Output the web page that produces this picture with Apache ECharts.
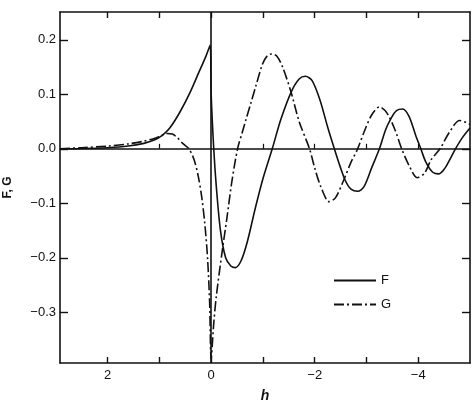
<!DOCTYPE html>
<html>
<head>
<meta charset="utf-8">
<script src="https://cdn.jsdelivr.net/npm/echarts@6/dist/echarts.min.js"></script>
<style>html,body{margin:0;padding:0;background:#fff;}#c{width:474px;height:404px;}</style>
</head>
<body>
<div id="c"></div>
<script>
// x values (h), y values of F and G
var fX = [2.92, 2.5, 2.0, 1.6, 1.3, 1.1, 0.95, 0.8, 0.6, 0.4, 0.23, 0.1, 0.02, 0.0, -0.05, -0.1, -0.18, -0.28, -0.38, -0.47, -0.58, -0.7, -0.85, -1.0, -1.18, -1.35, -1.55, -1.7, -1.82, -1.95, -2.1, -2.25, -2.38, -2.5, -2.6, -2.7, -2.83, -2.95, -3.1, -3.25, -3.37, -3.47, -3.58, -3.7, -3.82, -3.95, -4.05, -4.15, -4.28, -4.4, -4.52, -4.62, -4.72, -4.85, -5.0];
var fY = [0.0, 0.0005, 0.002, 0.005, 0.01, 0.016, 0.024, 0.038, 0.068, 0.105, 0.142, 0.17, 0.19, 0.1, 0.0, -0.07, -0.15, -0.2, -0.215, -0.218, -0.205, -0.17, -0.11, -0.055, 0.0, 0.055, 0.105, 0.128, 0.133, 0.125, 0.09, 0.04, 0.0, -0.035, -0.06, -0.074, -0.078, -0.07, -0.035, 0.0, 0.035, 0.055, 0.07, 0.073, 0.06, 0.025, 0.0, -0.025, -0.043, -0.046, -0.035, -0.018, 0.0, 0.02, 0.038];
var gX = [2.92, 2.5, 2.0, 1.6, 1.3, 1.1, 0.95, 0.85, 0.75, 0.65, 0.55, 0.43, 0.33, 0.25, 0.18, 0.12, 0.07, 0.03, 0.0, -0.05, -0.1, -0.21, -0.3, -0.4, -0.51, -0.6, -0.67, -0.77, -0.86, -0.99, -1.08, -1.17, -1.27, -1.38, -1.54, -1.7, -1.9, -2.0, -2.12, -2.28, -2.4, -2.55, -2.7, -2.83, -2.95, -3.1, -3.25, -3.4, -3.55, -3.68, -3.82, -3.98, -4.12, -4.25, -4.42, -4.6, -4.8, -5.0];
var gY = [0.0, 0.002, 0.005, 0.009, 0.014, 0.019, 0.025, 0.028, 0.027, 0.02, 0.01, 0.0, -0.02, -0.05, -0.09, -0.14, -0.2, -0.28, -0.385, -0.32, -0.27, -0.19, -0.13, -0.06, 0.0, 0.03, 0.053, 0.085, 0.114, 0.155, 0.17, 0.174, 0.17, 0.15, 0.105, 0.05, 0.0, -0.035, -0.07, -0.097, -0.09, -0.06, -0.025, 0.0, 0.03, 0.062, 0.077, 0.065, 0.035, 0.0, -0.03, -0.053, -0.045, -0.02, 0.0, 0.03, 0.052, 0.045];
var xTicks = [2, 1, 0, -1, -2, -3, -4];
var xLabels = [2, 0, -2, -4];
var yTicks = [-0.3, -0.2, -0.1, 0, 0.1, 0.2];
var yLabels = ['−0.3', '−0.2', '−0.1', '0.0', '0.1', '0.2'];

function pairs(xs, ys) { return xs.map(function (x, i) { return [x, ys[i]]; }); }

var ink = '#111';
var X_MIN = -5, X_MAX = 2.92, Y_MIN = -0.393, Y_MAX = 0.251;
var font = 'Liberation Sans, Arial, sans-serif';

function xAxisBase(extra) {
  var a = {
    type: 'value', inverse: true, min: X_MIN, max: X_MAX,
    splitLine: { show: false },
    axisLine: { show: true, onZero: false, lineStyle: { color: ink, width: 1.6 } },
    axisTick: { show: true, inside: true, length: 6, customValues: xTicks, lineStyle: { color: ink, width: 1.4 } },
    axisLabel: { show: false }
  };
  for (var k in extra) a[k] = extra[k];
  return a;
}
function yAxisBase(extra) {
  var a = {
    type: 'value', min: Y_MIN, max: Y_MAX,
    splitLine: { show: false },
    axisLine: { show: true, onZero: false, lineStyle: { color: ink, width: 1.6 } },
    axisTick: { show: true, inside: true, length: 8, customValues: yTicks, lineStyle: { color: ink, width: 1.4 } },
    axisLabel: { show: false }
  };
  for (var k in extra) a[k] = extra[k];
  return a;
}

var chart = echarts.init(document.getElementById('c'), null, { renderer: 'canvas' });
chart.setOption({
  backgroundColor: '#fff',
  animation: false,
  grid: { left: 60, right: 4, top: 12, bottom: 41, containLabel: false, outerBoundsMode: 'none' },
  legend: {
    show: true, orient: 'vertical', left: 328, top: 269, itemWidth: 42, itemHeight: 10, itemGap: 11,
    textStyle: { color: ink, fontSize: 13, fontFamily: font },
    itemStyle: { color: 'rgba(0,0,0,0)', borderWidth: 0, opacity: 0 },
    data: ['F', 'G']
  },
  xAxis: [
    xAxisBase({
      position: 'bottom',
      name: 'h', nameLocation: 'middle', nameGap: 26,
      nameTextStyle: { color: ink, fontSize: 14, fontStyle: 'italic', fontWeight: 'bold', fontFamily: font },
      axisLabel: {
        show: true, customValues: xLabels, color: ink, fontSize: 13, fontFamily: font, margin: 6,
        formatter: function (v) { return v < 0 ? '−' + Math.abs(v) : String(v); }
      }
    }),
    xAxisBase({ position: 'top' }),
    {
      type: 'value', inverse: true, min: X_MIN, max: X_MAX, position: 'bottom',
      splitLine: { show: false },
      axisLine: { show: true, onZero: true, lineStyle: { color: ink, width: 1.6 } },
      axisTick: { show: true, inside: true, length: 5, customValues: [1, -1, -2, -3, -4], lineStyle: { color: ink, width: 1.2 } },
      axisLabel: { show: false }
    }
  ],
  yAxis: [
    yAxisBase({
      position: 'left',
      name: 'F, G', nameLocation: 'middle', nameGap: 46,
      nameTextStyle: { color: ink, fontSize: 12, fontWeight: 'bold', fontFamily: font },
      axisLabel: {
        show: true, customValues: yTicks, color: ink, fontSize: 13, fontFamily: font, margin: 4,
        formatter: function (v) {
          var i = yTicks.findIndex(function (t) { return Math.abs(t - v) < 1e-9; });
          return i >= 0 ? yLabels[i] : '';
        }
      }
    }),
    yAxisBase({ position: 'right' })
  ],
  series: [
    {
      name: 'F', type: 'line', xAxisIndex: 0, yAxisIndex: 0,
      data: pairs(fX, fY), symbol: 'none', smooth: 0.3,
      lineStyle: { color: ink, width: 1.6, type: 'solid' },
      itemStyle: { color: ink },
      markLine: {
        silent: true, symbol: 'none', label: { show: false },
        lineStyle: { color: ink, width: 1.6, type: 'solid' },
        data: [{ xAxis: 0 }]
      }
    },
    {
      name: 'G', type: 'line', xAxisIndex: 0, yAxisIndex: 0,
      data: pairs(gX, gY), symbol: 'none', smooth: 0.3,
      lineStyle: { color: ink, width: 1.6, type: [10, 3, 2, 3] },
      itemStyle: { color: ink }
    }
  ]
});
</script>
</body>
</html>
